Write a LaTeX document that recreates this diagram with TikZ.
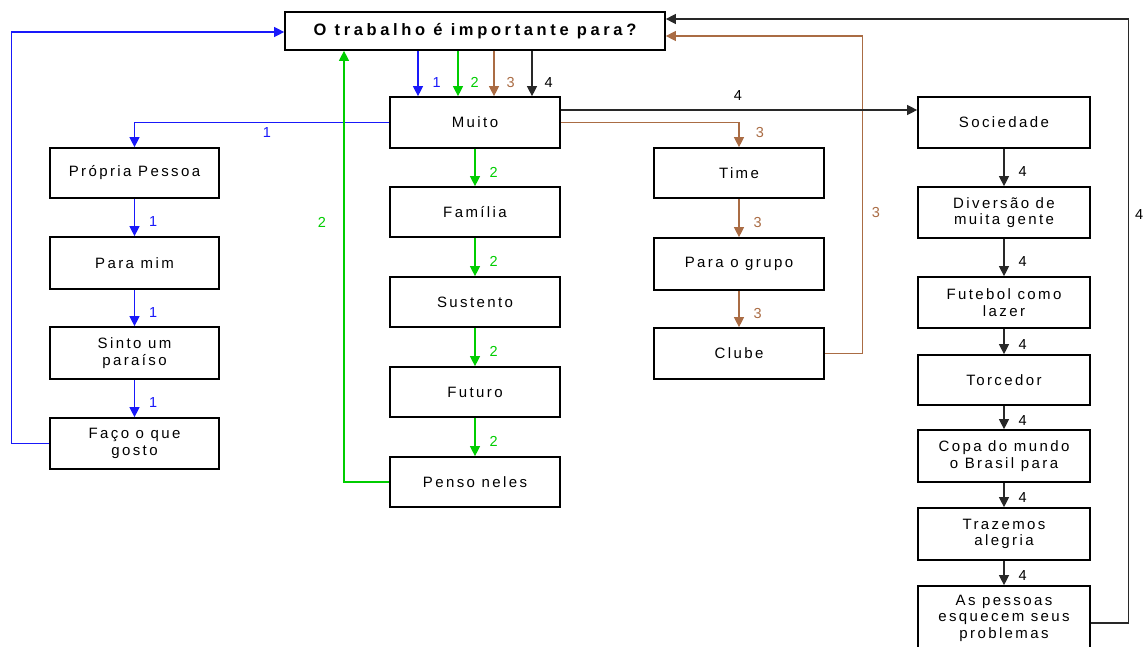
\documentclass[tikz,border=0pt]{standalone}
\usepackage{fontspec}
\setmainfont{Liberation Sans}
\newfontfamily\boxfont[LetterSpace=16]{Liberation Sans}
\newfontfamily\titlefont[LetterSpace=22]{Liberation Sans}
\usetikzlibrary{arrows.meta}
\definecolor{cblue}{RGB}{25,25,250}
\definecolor{cgreen}{RGB}{0,205,0}
\definecolor{cbrown}{RGB}{170,108,68}
\definecolor{cdark}{RGB}{40,40,40}
\begin{document}
\begin{tikzpicture}[x=1pt,y=-1pt,
  nbox/.style={draw, line width=1.7pt, inner sep=0pt, align=center,
    font=\boxfont\fontsize{15}{16.5}\selectfont},
  col1/.style={nbox, minimum width=169pt},
  col2/.style={nbox, minimum width=170pt},
  col3/.style={nbox, minimum width=170pt},
  col4/.style={nbox, minimum width=172pt},
  tip/.style={-{Triangle[length=10pt,width=10pt]}},
  conn/.style={line width=1.2pt},
  bl/.style={conn, draw=cblue},
  gr/.style={conn, draw=cgreen},
  br/.style={conn, draw=cbrown},
  bk/.style={conn, draw=cdark},
  lab/.style={inner sep=0pt, font=\fontsize{14.5}{16}\selectfont},
  steplab/.style={lab, pos=0.62, anchor=west, xshift=14pt}
]
\useasboundingbox (0,0) rectangle (1145,646);
\clip (0,0) rectangle (1145,646);
\fill[white] (0,0) rectangle (1145,646);

% question at the top
\node[nbox, minimum width=380pt, minimum height=38pt,
      font=\titlefont\bfseries\fontsize{16.5}{18}\selectfont] (q) at (475,31)
  {O trabalho é importante para?};

% central node
\node[col2, minimum height=51pt] (muito) at (475,122.5) {Muito};

% column 1
\node[col1, minimum height=50pt] (pp)    at (134.5,173)   {Própria Pessoa};
\node[col1, minimum height=52pt] (mim)   at (134.5,263)   {Para mim};
\node[col1, minimum height=52pt] (sinto) at (134.5,353)   {Sinto um\\paraíso};
\node[col1, minimum height=51pt] (faco)  at (134.5,443.5) {Faço o que\\gosto};

% column 2
\node[col2, minimum height=50pt] (fam)   at (475,212) {Família};
\node[col2, minimum height=50pt] (sust)  at (475,302) {Sustento};
\node[col2, minimum height=50pt] (fut)   at (475,392) {Futuro};
\node[col2, minimum height=50pt] (penso) at (475,482) {Penso neles};

% column 3
\node[col3, minimum height=50pt] (time)  at (739,173)   {Time};
\node[col3, minimum height=52pt] (grupo) at (739,264)   {Para o grupo};
\node[col3, minimum height=51pt] (clube) at (739,353.5) {Clube};

% column 4
\node[col4, minimum height=51pt] (soc)   at (1004,122.5) {Sociedade};
\node[col4, minimum height=51pt] (div)   at (1004,212.5) {Diversão de\\muita gente};
\node[col4, minimum height=51pt] (fteb)  at (1004,302.5) {Futebol como\\lazer};
\node[col4, minimum height=50pt] (torc)  at (1004,380)   {Torcedor};
\node[col4, minimum height=52pt] (copa)  at (1004,456)   {Copa do mundo\\o Brasil para};
\node[col4, minimum height=52pt] (traz)  at (1004,534)   {Trazemos\\alegria};
\node[col4, minimum height=64pt] (pess)  at (1004,618)   {As pessoas\\esquecem seus\\problemas};

% four branches from the question to "Muito"
\draw[bl,tip] ([xshift=-57pt]q.south) -- ([xshift=-57pt]muito.north)
  node[lab, text=cblue, pos=0.7, anchor=west, xshift=14pt] {1};
\draw[gr,tip] ([xshift=-17pt]q.south) -- ([xshift=-17pt]muito.north)
  node[lab, text=cgreen, pos=0.7, anchor=west, xshift=12pt] {2};
\draw[br,tip] ([xshift=19pt]q.south) -- ([xshift=19pt]muito.north)
  node[lab, text=cbrown, pos=0.7, anchor=west, xshift=12pt] {3};
\draw[bk,tip] ([xshift=57pt]q.south) -- ([xshift=57pt]muito.north)
  node[lab, text=black, pos=0.7, anchor=west, xshift=12pt] {4};

% path 1
\draw[bl,tip] (muito.west) -| (pp.north);
\node[lab, text=cblue] (l1) at (267,133) {1};
\draw[bl,tip] (pp.south) -- (mim.north) node[steplab, text=cblue] {1};
\draw[bl,tip] (mim.south) -- (sinto.north) node[steplab, text=cblue] {1};
\draw[bl,tip] (sinto.south) -- (faco.north) node[steplab, text=cblue] {1};
\draw[bl,tip] (faco.west) -- ++(-38,0) |- ([yshift=-1pt]q.west);

% path 2
\draw[gr,tip] (muito.south) -- (fam.north) node[steplab, text=cgreen] {2};
\draw[gr,tip] (fam.south) -- (sust.north) node[steplab, text=cgreen] {2};
\draw[gr,tip] (sust.south) -- (fut.north) node[steplab, text=cgreen] {2};
\draw[gr,tip] (fut.south) -- (penso.north) node[steplab, text=cgreen] {2};
\draw[gr,tip] (penso.west) -| ([xshift=-131pt]q.south);
\node[lab, text=cgreen] (l2) at (322,222) {2};

% path 3
\draw[br,tip] (muito.east) -| (time.north);
\node[lab, text=cbrown] (l3a) at (760,133) {3};
\draw[br,tip] (time.south) -- (grupo.north) node[steplab, text=cbrown] {3};
\draw[br,tip] (grupo.south) -- (clube.north) node[steplab, text=cbrown] {3};
\draw[br,tip] (clube.east) -- ++(38,0) |- ([yshift=-5pt]q.east);
\node[lab, text=cbrown] (l3b) at (876,213) {3};

% path 4
\draw[bk,tip] ([yshift=12.5pt]muito.east) -- ([yshift=12.5pt]soc.west);
\node[lab] (l4a) at (738,96) {4};
\draw[bk,tip] (soc.south) -- (div.north) node[steplab] {4};
\draw[bk,tip] (div.south) -- (fteb.north) node[steplab] {4};
\draw[bk,tip] (fteb.south) -- (torc.north) node[steplab] {4};
\draw[bk,tip] (torc.south) -- (copa.north) node[steplab] {4};
\draw[bk,tip] (copa.south) -- (traz.north) node[steplab] {4};
\draw[bk,tip] (traz.south) -- (pess.north) node[steplab] {4};
\draw[bk,tip] ([yshift=-5pt]pess.east) -- ++(38,0) |- ([yshift=12pt]q.east);
\node[lab, anchor=west] (l4b) at (1135,215) {4};
\end{tikzpicture}
\end{document}
